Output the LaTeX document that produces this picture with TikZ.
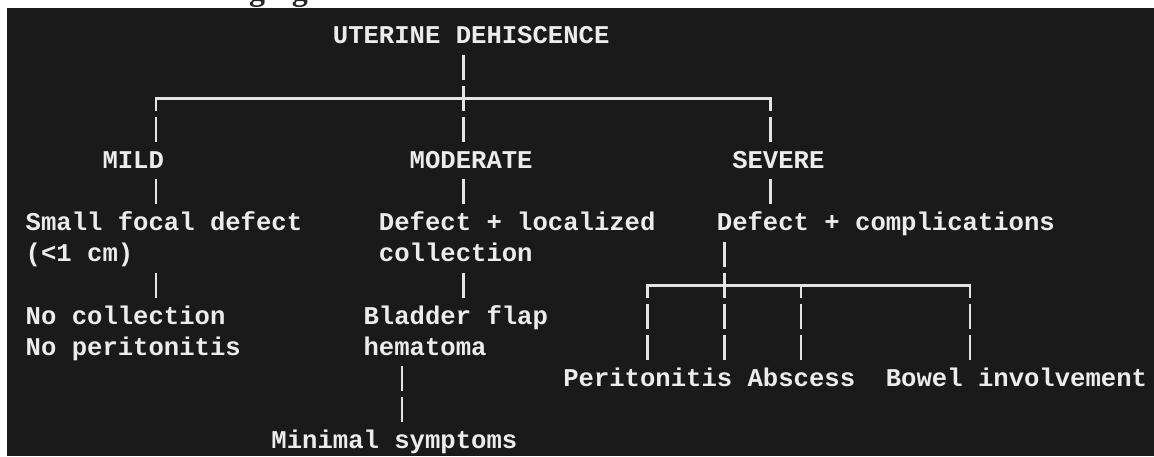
\documentclass[tikz,border=0pt]{standalone}
\usepackage{fontspec}
\newfontfamily\asciimono{Liberation Mono}
\newfontfamily\headserif{Liberation Serif}
\definecolor{bgdark}{RGB}{26,26,26}
\definecolor{ink}{RGB}{236,236,236}
\definecolor{strokec}{RGB}{228,228,228}
\newcommand\ascX[1]{25.5+15.36*(#1)}
\newcommand\ascY[1]{36+31.15*(#1)}
\begin{document}
\begin{tikzpicture}[x=1pt,y=-1pt,
  txt/.style={anchor=base west, inner sep=0pt, text=ink,
    font=\asciimono\bfseries\fontsize{25.6}{30}\selectfont},
  bar/.style={draw=strokec, line width=2.6pt, dash pattern=on 25pt off 6.15pt},
  cornerbar/.style={bar, dash phase=12.5pt},
  hline/.style={draw=strokec, line width=2.6pt, line cap=rect}]
\useasboundingbox (0,0) rectangle (1154,456);
\fill[white] (0,0) rectangle (1154,456);
\fill[bgdark] (7,8) rectangle (1154,456);
\begin{scope}
  \clip (0,0) rectangle (1154,8);
  \node[anchor=base west, inner sep=0pt, text=black!85,
    font=\headserif\bfseries\fontsize{32}{36}\selectfont] (cut) at (249,0.5) {ging};
\end{scope}

% text nodes
\node[txt] (title) at ({\ascX{20}},{\ascY{0}+7.7}) {UTERINE DEHISCENCE};
\node[txt] (mild) at ({\ascX{5}},{\ascY{4}+7.7}) {MILD};
\node[txt] (moderate) at ({\ascX{25}},{\ascY{4}+7.7}) {MODERATE};
\node[txt] (severe) at ({\ascX{46}},{\ascY{4}+7.7}) {SEVERE};
\node[txt] (mildA) at ({\ascX{0}},{\ascY{6}+7.7}) {Small focal defect};
\node[txt] (mildB) at ({\ascX{0}},{\ascY{7}+7.7}) {(<1 cm)};
\node[txt] (modA) at ({\ascX{23}},{\ascY{6}+7.7}) {Defect + localized};
\node[txt] (modB) at ({\ascX{23}},{\ascY{7}+7.7}) {collection};
\node[txt] (sevA) at ({\ascX{45}},{\ascY{6}+7.7}) {Defect + complications};
\node[txt] (mildC) at ({\ascX{0}},{\ascY{9}+7.7}) {No collection};
\node[txt] (mildD) at ({\ascX{0}},{\ascY{10}+7.7}) {No peritonitis};
\node[txt] (modC) at ({\ascX{22}},{\ascY{9}+7.7}) {Bladder flap};
\node[txt] (modD) at ({\ascX{22}},{\ascY{10}+7.7}) {hematoma};
\node[txt] (modE) at ({\ascX{16}},{\ascY{13}+7.7}) {Minimal symptoms};
\node[txt] (peri) at ({\ascX{35}},{\ascY{11}+7.7}) {Peritonitis};
\node[txt] (absc) at ({\ascX{47}},{\ascY{11}+7.7}) {Abscess};
\node[txt] (bowel) at ({\ascX{56}},{\ascY{11}+7.7}) {Bowel involvement};

% junction coordinates
\coordinate (titleB) at ({\ascX{28.5}},{\ascY{1}-12.5});
\coordinate (splitC) at ({\ascX{28.5}},{\ascY{3}+12.5});
\coordinate (splitL) at ({\ascX{8.5}},{\ascY{2}});
\coordinate (splitR) at ({\ascX{48.5}},{\ascY{2}});
\coordinate (mildT) at ({\ascX{8.5}},{\ascY{3}+12.5});
\coordinate (sevT) at ({\ascX{48.5}},{\ascY{3}+12.5});
\coordinate (mildB1) at ({\ascX{8.5}},{\ascY{5}-12.5});
\coordinate (mildB2) at ({\ascX{8.5}},{\ascY{5}+12.5});
\coordinate (modB1) at ({\ascX{28.5}},{\ascY{5}-12.5});
\coordinate (modB2) at ({\ascX{28.5}},{\ascY{5}+12.5});
\coordinate (sevB1) at ({\ascX{48.5}},{\ascY{5}-12.5});
\coordinate (sevB2) at ({\ascX{48.5}},{\ascY{5}+12.5});
\coordinate (mildE1) at ({\ascX{8.5}},{\ascY{8}-12.5});
\coordinate (mildE2) at ({\ascX{8.5}},{\ascY{8}+12.5});
\coordinate (modE1) at ({\ascX{28.5}},{\ascY{8}-12.5});
\coordinate (modE2) at ({\ascX{28.5}},{\ascY{8}+12.5});
\coordinate (sevS1) at ({\ascX{45.5}},{\ascY{7}-12.5});
\coordinate (sevS2) at ({\ascX{45.5}},{\ascY{10}+12.5});
\coordinate (brL) at ({\ascX{40.5}},{\ascY{8}});
\coordinate (brM) at ({\ascX{50.5}},{\ascY{8}});
\coordinate (brR) at ({\ascX{61.5}},{\ascY{8}});
\coordinate (periT) at ({\ascX{40.5}},{\ascY{10}+12.5});
\coordinate (abscT) at ({\ascX{50.5}},{\ascY{10}+12.5});
\coordinate (bowelT) at ({\ascX{61.5}},{\ascY{10}+12.5});
\coordinate (hemB1) at ({\ascX{24.5}},{\ascY{11}-12.5});
\coordinate (hemB2) at ({\ascX{24.5}},{\ascY{12}+12.5});

% connectors
\draw[hline] (splitL) -- (splitR);
\draw[bar] (titleB) -- (splitC);
\draw[cornerbar] (splitL) -- (mildT);
\draw[cornerbar] (splitR) -- (sevT);
\draw[bar] (mildB1) -- (mildB2);
\draw[bar] (modB1) -- (modB2);
\draw[bar] (sevB1) -- (sevB2);
\draw[bar] (mildE1) -- (mildE2);
\draw[bar] (modE1) -- (modE2);
\draw[hline] (brL) -- (brR);
\draw[bar] (sevS1) -- (sevS2);
\draw[cornerbar] (brL) -- (periT);
\draw[cornerbar] (brM) -- (abscT);
\draw[cornerbar] (brR) -- (bowelT);
\draw[bar] (hemB1) -- (hemB2);
\end{tikzpicture}
\end{document}
